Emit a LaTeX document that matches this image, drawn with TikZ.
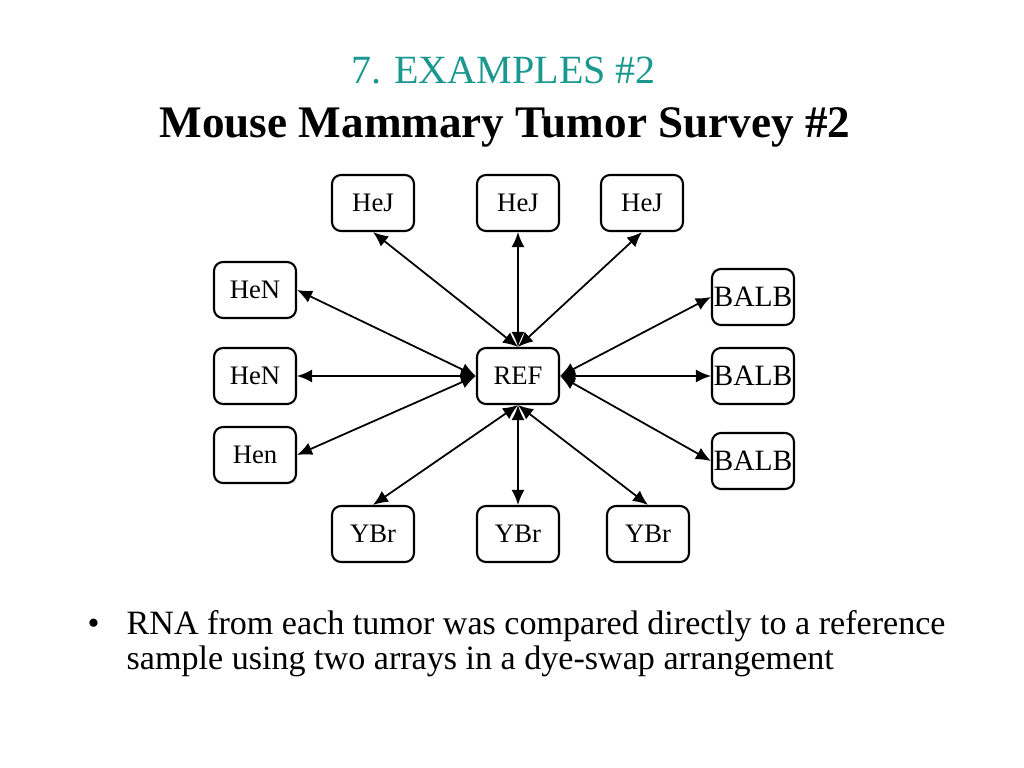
\documentclass[tikz,border=0pt]{standalone}
\usepackage{fontspec}
\setmainfont{Liberation Serif}
\usepackage{xcolor}
\usetikzlibrary{arrows.meta, positioning}
\definecolor{titleteal}{RGB}{26,152,143}

\begin{document}
\begin{tikzpicture}[
    strain/.style={draw, line width=0.6pt, rounded corners=0.09cm, minimum width=0.82cm,
                   minimum height=0.56cm, inner sep=0pt, font=\fontsize{7.6}{9}\selectfont},
    wide/.style={strain, font=\fontsize{8.4}{10}\selectfont, text depth=-0.06cm},
    swap/.style={{Latex[length=1.5mm,width=1.3mm]}-{Latex[length=1.5mm,width=1.3mm]}, line width=0.5pt},
    bullettext/.style={anchor=base west, inner sep=0pt, font=\fontsize{9.7}{12}\selectfont}
  ]
  \useasboundingbox (0,0) rectangle (10.24,-7.68);
  % titles
  \node[anchor=base, text=titleteal, font=\fontsize{11.4}{13}\selectfont] (title) at (5.035,-0.83) {7. EXAMPLES \#2};
  \node[anchor=base, font=\fontsize{12.85}{15}\selectfont\bfseries] (subtitle) at (5.05,-1.37) {Mouse Mammary Tumor Survey \#2};
  % strains round the reference
  \node[strain] (ref) at (5.18,-3.76) {REF};
  \node[strain] (hej1) at (3.73,-2.03) {HeJ};
  \node[strain] (hej2) at (5.18,-2.03) {HeJ};
  \node[strain] (hej3) at (6.42,-2.03) {HeJ};
  \node[strain] (hen1) at (2.55,-2.90) {HeN};
  \node[strain] (hen2) at (2.55,-3.76) {HeN};
  \node[strain] (hen3) at (2.55,-4.55) {Hen};
  \node[wide] (balb1) at (7.53,-2.97) {BALB};
  \node[wide] (balb2) at (7.53,-3.76) {BALB};
  \node[wide] (balb3) at (7.53,-4.61) {BALB};
  \node[strain] (ybr1) at (3.73,-5.34) {YBr};
  \node[strain] (ybr2) at (5.18,-5.34) {YBr};
  \node[strain] (ybr3) at (6.48,-5.34) {YBr};
  % dye-swap pairs
  \draw[swap] (ref.north) -- (hej1.south);
  \draw[swap] (ref.north) -- (hej2.south);
  \draw[swap] (ref.north) -- (hej3.south);
  \draw[swap] (ref.west) -- (hen1.east);
  \draw[swap] (ref.west) -- (hen2.east);
  \draw[swap] (ref.west) -- (hen3.east);
  \draw[swap] (ref.east) -- (balb1.west);
  \draw[swap] (ref.east) -- (balb2.west);
  \draw[swap] (ref.east) -- (balb3.west);
  \draw[swap] (ref.south) -- (ybr1.north);
  \draw[swap] (ref.south) -- (ybr2.north);
  \draw[swap] (ref.south) -- (ybr3.north);
  % bullet text
  \node[bullettext] (dot) at (0.87,-6.34) {•};
  \node[bullettext] (line1) at (1.26,-6.34) {RNA from each tumor was compared directly to a reference};
  \node[bullettext] (line2) at (1.26,-6.69) {sample using two arrays in a dye-swap arrangement};
\end{tikzpicture}
\end{document}
